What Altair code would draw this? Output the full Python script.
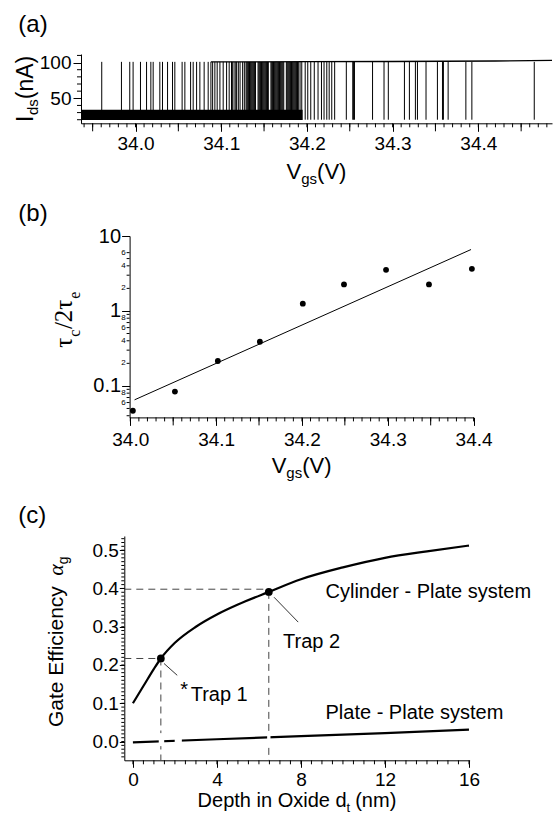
import altair as alt
import pandas as pd

FONT = "Liberation Sans"
SERIF = "Liberation Serif"

# ---------------- Panel (a): telegraph signal ----------------
a_up_spikes = [33.9606, 33.9836, 33.9933, 33.9972, 34.0058, 34.0129, 34.0179, 34.0206,
               34.0284, 34.0315, 34.0374, 34.0432, 34.0459, 34.0544, 34.0576, 34.0643,
               34.0673, 34.0713, 34.0751, 34.0801, 34.0848, 34.0880, 34.0900, 34.0926,
               34.0953, 34.0985, 34.1023, 34.1063, 34.1093, 34.1121]
a_dense_spikes = [34.112, 34.113, 34.115, 34.117, 34.118, 34.120, 34.122, 34.125, 34.127,
                  34.129, 34.130, 34.131, 34.132, 34.133, 34.134, 34.135, 34.136, 34.137,
                  34.138, 34.139, 34.140, 34.143, 34.144, 34.145, 34.146, 34.147, 34.148,
                  34.149, 34.150, 34.151, 34.152, 34.153, 34.154, 34.155, 34.158, 34.159,
                  34.160, 34.161, 34.162, 34.163, 34.164, 34.165, 34.166, 34.167, 34.168,
                  34.169, 34.170, 34.171, 34.172, 34.173, 34.176, 34.177, 34.178, 34.179,
                  34.180, 34.181, 34.182, 34.183, 34.184, 34.185, 34.186, 34.187, 34.188,
                  34.189, 34.190, 34.192, 34.194, 34.198, 34.201, 34.2045, 34.2086,
                  34.213, 34.217, 34.220, 34.2232, 34.226, 34.229, 34.2324]
a_down_spikes = [34.246, 34.2535, 34.2545, 34.2555, 34.2766, 34.290, 34.295, 34.3138,
                 34.3196, 34.3266, 34.329, 34.339, 34.3523, 34.3582, 34.3593, 34.3648,
                 34.3855, 34.3925, 34.4653]
a_low_level = 20.0
a_high_level = 101.0
a_band_start, a_band_end = 33.9364, 34.195
a_band_low, a_band_high = 19.5, 33.8
a_high_x = [34.088, 34.20, 34.30, 34.42, 34.486]
a_high_y = [101.0, 101.2, 101.5, 102.2, 103.0]
a_xlabels = [34.0, 34.1, 34.2, 34.3, 34.4]
a_xmid = [33.95, 34.05, 34.15, 34.25, 34.35, 34.45]
a_xminor = [round(33.94 + 0.01 * i, 2) for i in range(55)]
a_ylabels = [50, 100]
a_yminor = [20, 30, 40, 60, 70, 80, 90, 110]

# ---------------- Panel (b): tau_c / 2 tau_e ----------------
b_vgs = [34.003, 34.052, 34.102, 34.151, 34.201, 34.249, 34.298, 34.348, 34.398]
b_ratio = [0.0466, 0.084, 0.215, 0.388, 1.25, 2.26, 3.54, 2.26, 3.65]
b_fit_x = [34.005, 34.397]
b_fit_y = [0.0652, 6.6]
b_xlabels = [34.0, 34.1, 34.2, 34.3, 34.4]
b_xmid = [34.05, 34.15, 34.25, 34.35]
b_xminor = [round(34.00 + 0.01 * i, 2) for i in range(41)]
b_ymajor = [0.1, 1, 10]
b_yminor = [0.04, 0.05, 0.06, 0.07, 0.08, 0.09, 0.2, 0.3, 0.4, 0.5, 0.6, 0.7, 0.8,
            0.9, 2, 3, 4, 5, 6]
b_small_vals = [0.06, 0.08, 0.2, 0.4, 0.6, 0.8, 2, 4, 6]
b_small_text = ["6", "8", "2", "4", "6", "8", "2", "4", "6"]

# ---------------- Panel (c): gate efficiency ----------------
c_depth = [0, 0.5, 1.0, 1.33, 2, 3, 4, 5, 6.47, 8, 10, 12, 14, 16]
c_cyl = [0.100, 0.145, 0.190, 0.217, 0.258, 0.300, 0.332, 0.358, 0.391, 0.424,
         0.455, 0.480, 0.497, 0.512]
c_plate_x = [0, 4, 8, 12, 16]
c_plate_y = [-0.002, 0.006, 0.014, 0.022, 0.031]
c_plate_gap_start = [1.23, 1.99, 6.39]
c_plate_gap_end = [1.49, 2.33, 6.55]
c_trap_x = [1.33, 6.47]
c_trap_y = [0.217, 0.391]
c_trap_hline = [0.217, 0.398]
c_xlabels = [0, 4, 8, 12, 16]
c_xminor = [0.5 * i for i in range(33)]
c_ylabels = [0.0, 0.1, 0.2, 0.3, 0.4, 0.5]
c_yminor = [round(-0.04 + 0.01 * i, 2) for i in range(58)]

# ---------------- layout (pixels) ----------------
ORIG = 80.7                      # common left edge of all views
A_T, A_W, A_H = 54.0, 471.0, 69.3
B_T, B_W, B_H = 235.3, 392.6, 181.4
B_X0 = 129.3 - ORIG              # y-axis position inside panel (b)
C_T, C_W, C_H = 535.0, 388.6, 224.3
C_X0 = 124.0 - ORIG              # y-axis position inside panel (c)
ROWS = [(0, 195), (195, 500), (500, 816)]

W_SANS = {" ": 278, "(": 333, ")": 333, "-": 333, ".": 278, "*": 389, "A": 667,
          "C": 722, "D": 722, "E": 667, "G": 778, "I": 278, "O": 778, "P": 667,
          "T": 611, "V": 667, "a": 556, "c": 500, "d": 556, "e": 556, "f": 278,
          "g": 556, "h": 556, "i": 222, "l": 222, "m": 833, "n": 556, "p": 556,
          "r": 333, "s": 500, "t": 278, "x": 500, "y": 500}


def wid(s, size):
    return sum(W_SANS.get(ch, 556) for ch in s) / 1000.0 * size


dummy = pd.DataFrame({"k": [0]})


def txt(s, x, y, size, angle=0, align="left", baseline="alphabetic", font=FONT,
        style="normal"):
    return alt.Chart(dummy).mark_text(
        text=s, fontSize=size, font=font, fontStyle=style, angle=angle,
        align=align, baseline=baseline, color="black"
    ).encode(x=alt.value(x), y=alt.value(y))


def bound_rule(top, row):
    return alt.Chart(dummy).mark_rule(strokeOpacity=0, color="black").encode(
        x=alt.value(-ORIG), y=alt.value(row[0] - top), y2=alt.value(row[1] - top))


def htitle(pieces, cx, base):
    # pieces: (text, size, is_subscript, extra gap after)
    total = sum(wid(t, s) + g for t, s, _, g in pieces)
    x = cx - total / 2
    out = []
    for t, s, sub, g in pieces:
        out.append(txt(t, x, base + (5 if sub else 0), s))
        x += wid(t, s) + g
    return out


def axis(values, fmt, size=19, pad=3, tick=8, **kw):
    return alt.Axis(values=values, format=fmt, labelFontSize=size, labelPadding=pad,
                    tickSize=tick, domainColor="black", tickColor="black",
                    labelColor="black", labelFont=FONT, grid=False, title=None,
                    labelOverlap=False, tickWidth=1, domainWidth=1, labelFlush=False,
                    **kw)


def xticks(vals, field_scale, height, length):
    df = pd.DataFrame({"v": vals})
    return alt.Chart(df).mark_rule(color="black", strokeWidth=1).encode(
        x=alt.X("v:Q", scale=field_scale), y=alt.value(height),
        y2=alt.value(height + length))


def yticks(vals, field_scale, x0, length):
    df = pd.DataFrame({"v": vals})
    return alt.Chart(df).mark_rule(color="black", strokeWidth=1).encode(
        y=alt.Y("v:Q", scale=field_scale), x=alt.value(x0 - length),
        x2=alt.value(x0))


# ---------------- Panel (a) ----------------
sa_x = alt.Scale(domain=[33.9364, 34.486], nice=False, zero=False)
sa_y = alt.Scale(domain=[15, 112], nice=False, zero=False)

spk = pd.DataFrame({"v": a_up_spikes + a_dense_spikes + a_down_spikes})
band = pd.DataFrame({"x0": [a_band_start], "x1": [a_band_end],
                     "y0": [a_band_low], "y1": [a_band_high]})
high = pd.DataFrame({"x": a_high_x, "y": a_high_y})

a_band = alt.Chart(band).mark_rect(color="black").encode(
    x=alt.X("x0:Q", scale=sa_x, axis=axis(a_xlabels, ".1f", pad=3)), x2="x1:Q",
    y=alt.Y("y0:Q", scale=sa_y, axis=axis(a_ylabels, "d", pad=2)), y2="y1:Q")
a_spikes = alt.Chart(spk).mark_rule(color="black", strokeWidth=1).encode(
    x="v:Q", y=alt.datum(a_low_level), y2=alt.datum(a_high_level))
a_high = alt.Chart(high).mark_line(color="black", strokeWidth=1.3).encode(
    x="x:Q", y="y:Q")

a_texts = [txt("(a)", 18 - ORIG, 32 - A_T, 24)]
ya_base = 33 - ORIG
y0 = 122 - A_T
a_texts.append(txt("I", ya_base, y0, 23, angle=270))
y0 -= wid("I", 23) + 0.5
a_texts.append(txt("ds", ya_base + 5, y0, 15, angle=270))
y0 -= wid("ds", 15)
a_texts.append(txt("(nA)", ya_base, y0, 23, angle=270))
a_texts += htitle([("V", 22, False, 0), ("gs", 15, True, 0), ("(V)", 22, False, 0)],
                  A_W / 2, 179 - A_T)

panel_a = alt.layer(
    a_band, a_spikes, a_high,
    xticks(a_xminor, sa_x, A_H, 4), xticks(a_xmid, sa_x, A_H, 8),
    yticks(a_yminor, sa_y, 0, 4),
    *a_texts, bound_rule(A_T, ROWS[0])).properties(width=A_W, height=A_H)

# ---------------- Panel (b) ----------------
sb_x = alt.Scale(domain=[33.9992, 34.4], range=[B_X0, B_W], nice=False, zero=False)
sb_y = alt.Scale(type="log", domain=[0.038, 10], nice=False)

bdf = pd.DataFrame({"x": b_vgs, "y": b_ratio})
fdf = pd.DataFrame({"x": b_fit_x, "y": b_fit_y})
small = pd.DataFrame({"v": b_small_vals, "t": b_small_text})

b_pts = alt.Chart(bdf).mark_circle(color="black", size=34, opacity=1).encode(
    x=alt.X("x:Q", scale=sb_x, axis=axis(b_xlabels, ".1f", pad=5)),
    y=alt.Y("y:Q", scale=sb_y, axis=axis(b_ymajor, "~g", size=20, pad=1,
                                         offset=-B_X0)))
b_fit = alt.Chart(fdf).mark_line(color="black", strokeWidth=1).encode(x="x:Q", y="y:Q")
b_small = alt.Chart(small).mark_text(align="right", baseline="middle", fontSize=8,
                                     font=FONT, color="black").encode(
    y=alt.Y("v:Q", scale=sb_y), x=alt.value(B_X0 - 4), text="t:N")

b_texts = [txt("(b)", 18 - ORIG, 220 - B_T, 24)]
yb_base = 72 - ORIG
y0 = 347 - B_T
b_texts.append(txt("τ", yb_base, y0, 25, angle=270, font=SERIF))
y0 -= 0.44 * 25
b_texts.append(txt("c", yb_base + 8, y0, 16, angle=270, font=SERIF))
y0 -= 0.444 * 16 + 0.5
b_texts.append(txt("/2τ", yb_base, y0, 25, angle=270, font=SERIF))
y0 -= (0.278 + 0.5 + 0.44) * 25
b_texts.append(txt("e", yb_base + 8, y0, 16, angle=270, font=SERIF))
b_texts += htitle([("V", 22, False, 0), ("gs", 15, True, 0), ("(V)", 22, False, 0)],
                  (B_X0 + B_W) / 2, 472 - B_T)

panel_b = alt.layer(
    b_fit, b_pts, b_small,
    xticks(b_xminor, sb_x, B_H, 4), xticks(b_xmid, sb_x, B_H, 8),
    yticks(b_yminor, sb_y, B_X0, 3),
    *b_texts, bound_rule(B_T, ROWS[1])).properties(width=B_W, height=B_H)

# ---------------- Panel (c) ----------------
sc_x = alt.Scale(domain=[-0.41, 16.03], range=[C_X0, C_W], nice=False, zero=False)
sc_y = alt.Scale(domain=[-0.049, 0.537], nice=False, zero=False)

cyl = pd.DataFrame({"x": c_depth, "y": c_cyl})
plate = pd.DataFrame({"x": c_plate_x, "y": c_plate_y})
gaps = pd.DataFrame({"x0": c_plate_gap_start, "x1": c_plate_gap_end,
                     "y0": [-0.012] * 3, "y1": [0.022] * 3})
traps = pd.DataFrame({"x": c_trap_x, "y": c_trap_y, "h": c_trap_hline,
                      "x0": [-0.41, -0.41], "yb": [-0.049, -0.049]})
leaders = pd.DataFrame({"x": [1.48, 6.72], "x2": [2.11, 7.87],
                        "y": [0.204, 0.377], "y2": [0.173, 0.312]})

c_cyl_line = alt.Chart(cyl).mark_line(color="black", strokeWidth=2.2,
                                      interpolate="monotone").encode(
    x=alt.X("x:Q", scale=sc_x, axis=axis(c_xlabels, "d", pad=3, tick=7)),
    y=alt.Y("y:Q", scale=sc_y, axis=axis(c_ylabels, ".1f", pad=1, tick=5,
                                         offset=-C_X0)))
c_plate_line = alt.Chart(plate).mark_line(color="black", strokeWidth=2.2).encode(
    x="x:Q", y="y:Q")
c_gaps = alt.Chart(gaps).mark_rect(color="white").encode(
    x="x0:Q", x2="x1:Q", y="y0:Q", y2="y1:Q")
c_hdash = alt.Chart(traps).mark_rule(color="#444", strokeWidth=1,
                                     strokeDash=[7, 5]).encode(
    x="x0:Q", x2="x:Q", y="h:Q")
c_vdash = alt.Chart(traps).mark_rule(color="#444", strokeWidth=1,
                                     strokeDash=[7, 5]).encode(
    x="x:Q", y="y:Q", y2="yb:Q")
c_leader = alt.Chart(leaders).mark_rule(color="#333", strokeWidth=1).encode(
    x="x:Q", x2="x2:Q", y="y:Q", y2="y2:Q")
c_pts = alt.Chart(traps).mark_circle(color="black", size=60, opacity=1).encode(
    x="x:Q", y="y:Q")

ann = pd.DataFrame({"t": ["Cylinder - Plate system", "Plate - Plate system",
                          "Trap 2", "Trap 1"],
                    "x": [9.17, 9.17, 7.15, 2.75],
                    "y": [0.39, 0.0754, 0.26, 0.121]})
c_ann = alt.Chart(ann).mark_text(align="left", baseline="middle", fontSize=20,
                                 font=FONT, color="black").encode(
    x="x:Q", y="y:Q", text="t:N")
star = pd.DataFrame({"t": ["*"], "x": [2.25], "y": [0.135]})
c_star = alt.Chart(star).mark_text(align="left", baseline="middle", fontSize=20,
                                   font=FONT, color="black").encode(
    x="x:Q", y="y:Q", text="t:N")

c_texts = [txt("(c)", 18 - ORIG, 522 - C_T, 24)]
yc_base = 63 - ORIG
y0 = 726 - C_T
c_texts.append(txt("Gate Efficiency", yc_base, y0, 21, angle=270))
y0 -= wid("Gate Efficiency", 21) + 10
c_texts.append(txt("α", yc_base, y0, 22, angle=270, font=SERIF, style="italic"))
y0 -= 0.52 * 22
c_texts.append(txt("g", yc_base + 5, y0, 14, angle=270))
c_texts += htitle([("Depth in Oxide d", 20, False, 0), ("t", 13, True, 5),
                   ("(nm)", 20, False, 0)], (C_X0 + C_W) / 2, 806 - C_T)

panel_c = alt.layer(
    c_hdash, c_vdash, c_leader, c_cyl_line, c_plate_line, c_gaps, c_pts, c_ann,
    c_star,
    xticks(c_xminor, sc_x, C_H, 4), yticks(c_yminor, sc_y, C_X0, 3),
    *c_texts, bound_rule(C_T, ROWS[2])).properties(width=C_W, height=C_H)

chart = alt.vconcat(panel_a, panel_b, panel_c, spacing=0).properties(
    padding=0).configure_view(stroke=None)

chart.save("out.html", embed_options={"renderer": "svg", "actions": False})
